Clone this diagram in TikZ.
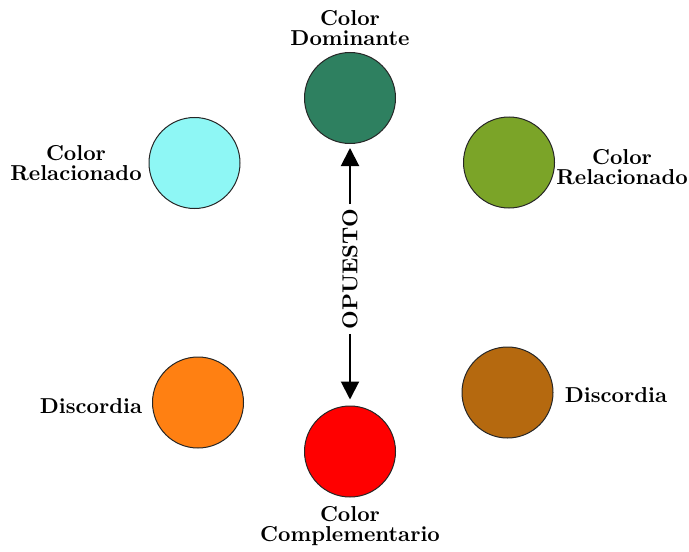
\documentclass[tikz,border=0pt]{standalone}
\usepackage{tikz}
\usetikzlibrary{arrows.meta,positioning}
\definecolor{dominante}{RGB}{46,128,96}
\definecolor{relcyan}{RGB}{142,247,245}
\definecolor{relgreen}{RGB}{123,164,40}
\definecolor{discorange}{RGB}{255,128,18}
\definecolor{discbrown}{RGB}{181,105,15}
\definecolor{complred}{RGB}{255,0,0}

\begin{document}
\begin{tikzpicture}[
    x=0.5pt, y=-0.5pt,
    swatch/.style={circle, draw=black!70!gray, line width=0.5pt, minimum size=45.5pt, inner sep=0pt},
    label/.style={align=center, inner sep=0pt, font=\bfseries\fontsize{10.8}{10}\selectfont},
    arrow/.style={-{Triangle[length=9pt, width=9pt]}, line width=1pt}
]
\useasboundingbox (0,0) rectangle (689,551);

% colour circles
\node[swatch, fill=dominante] (dom) at (350, 98) {};
\node[swatch, fill=relcyan] (relL) at (194.5, 163) {};
\node[swatch, fill=relgreen] (relR) at (509, 162.5) {};
\node[swatch, fill=discorange] (discL) at (198, 402.5) {};
\node[swatch, fill=discbrown] (discR) at (507.5, 392.5) {};
\node[swatch, fill=complred] (compl) at (350, 451.5) {};

% names
\node[label] (domtxt) at (350, 28) {Color\\Dominante};
\node[label] (relLtxt) at (76, 163) {Color\\Relacionado};
\node[label] (relRtxt) at (622, 167) {Color\\Relacionado};
\node[label] (discLtxt) at (91, 406) {Discordia};
\node[label] (discRtxt) at (616, 395) {Discordia};
\node[label] (compltxt) at (350, 526) {Color\\Complementario};

% opposite pair
\node[label, rotate=90, inner sep=2pt] (op) at (350, 269) {OPUESTO};
\draw[arrow, shorten >=2pt] (op) -- (dom);
\draw[arrow, shorten >=3pt] (op) -- (compl);
\end{tikzpicture}
\end{document}
